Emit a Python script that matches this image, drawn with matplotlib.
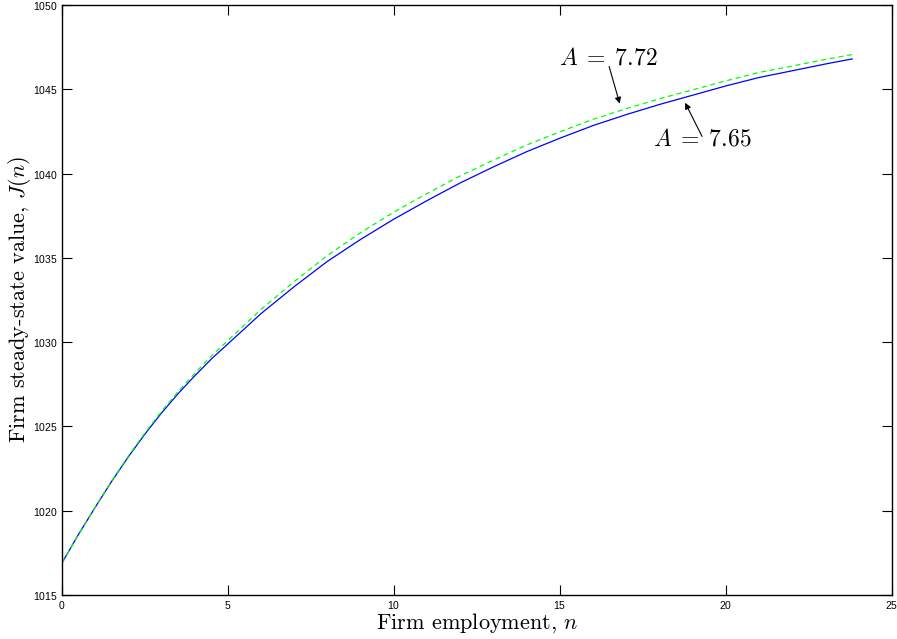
import numpy as np
import matplotlib
matplotlib.use('Agg')
import matplotlib.pyplot as plt

# Values
n = [0, 0.5, 1, 1.5, 2, 2.5, 3, 3.5, 4, 4.5, 5, 6, 7, 8, 9, 10, 11, 12,
     13, 14, 15, 16, 17, 18, 19, 20, 21, 22, 23, 23.8]
J_low = [1016.9, 1018.6, 1020.2, 1021.75, 1023.2, 1024.55, 1025.8, 1026.95,
         1028.0, 1029.0, 1029.9, 1031.7, 1033.3, 1034.8, 1036.1, 1037.3,
         1038.4, 1039.45, 1040.4, 1041.3, 1042.1, 1042.85, 1043.5, 1044.1,
         1044.65, 1045.2, 1045.7, 1046.1, 1046.5, 1046.8]
J_high = [1016.9, 1018.61, 1020.22, 1021.78, 1023.25, 1024.62, 1025.9,
          1027.07, 1028.15, 1029.18, 1030.1, 1031.95, 1033.6, 1035.15,
          1036.5, 1037.72, 1038.82, 1039.87, 1040.8, 1041.7, 1042.48,
          1043.22, 1043.85, 1044.44, 1044.97, 1045.5, 1046.0, 1046.38,
          1046.77, 1047.06]

x_ticks = [0, 5, 10, 15, 20, 25]
y_ticks = [1015, 1020, 1025, 1030, 1035, 1040, 1045, 1050]

plt.rcParams['mathtext.fontset'] = 'cm'
plt.rcParams['axes.formatter.use_mathtext'] = True

fig = plt.figure(figsize=(8.97, 6.39), dpi=100)
ax = fig.add_axes([0.0691, 0.0689, 0.9944 - 0.0691, 0.9922 - 0.0689])

ax.plot(n, J_low, color='#0000ff', lw=0.9)
ax.plot(n, J_high, color='#00ff00', lw=0.9, dashes=(4, 3))

ax.set_xlim(0, 25)
ax.set_ylim(1015, 1050)
ax.set_xticks(x_ticks)
ax.set_yticks(y_ticks)
ax.tick_params(direction='in', length=7, width=0.8, top=True, right=True,
               labelsize=7.5, pad=3)
for lab in ax.get_xticklabels() + ax.get_yticklabels():
    lab.set_family('Liberation Sans')
for s in ax.spines.values():
    s.set_linewidth(1.0)

ax.set_xlabel('Firm employment, $n$', family='cmr10', fontsize=16,
              labelpad=0)
ax.set_ylabel('Firm steady-state value, $J(n)$', family='cmr10',
              fontsize=16, labelpad=0)

# annotations
arrow = dict(arrowstyle='-|>', color='k', lw=0.8, mutation_scale=9,
             shrinkA=0, shrinkB=0)
ax.annotate('', xy=(16.8, 1044.15), xytext=(16.48, 1046.35),
            arrowprops=arrow)
ax.text(16.45, 1046.9, r'$A\;=\;7.72$', fontsize=17, ha='center',
        va='center')
ax.annotate('', xy=(18.77, 1044.2), xytext=(19.28, 1042.2),
            arrowprops=arrow)
ax.text(19.28, 1042.05, r'$A\;=\;7.65$', fontsize=17, ha='center',
        va='center')

fig.savefig('out.png', dpi=100)
